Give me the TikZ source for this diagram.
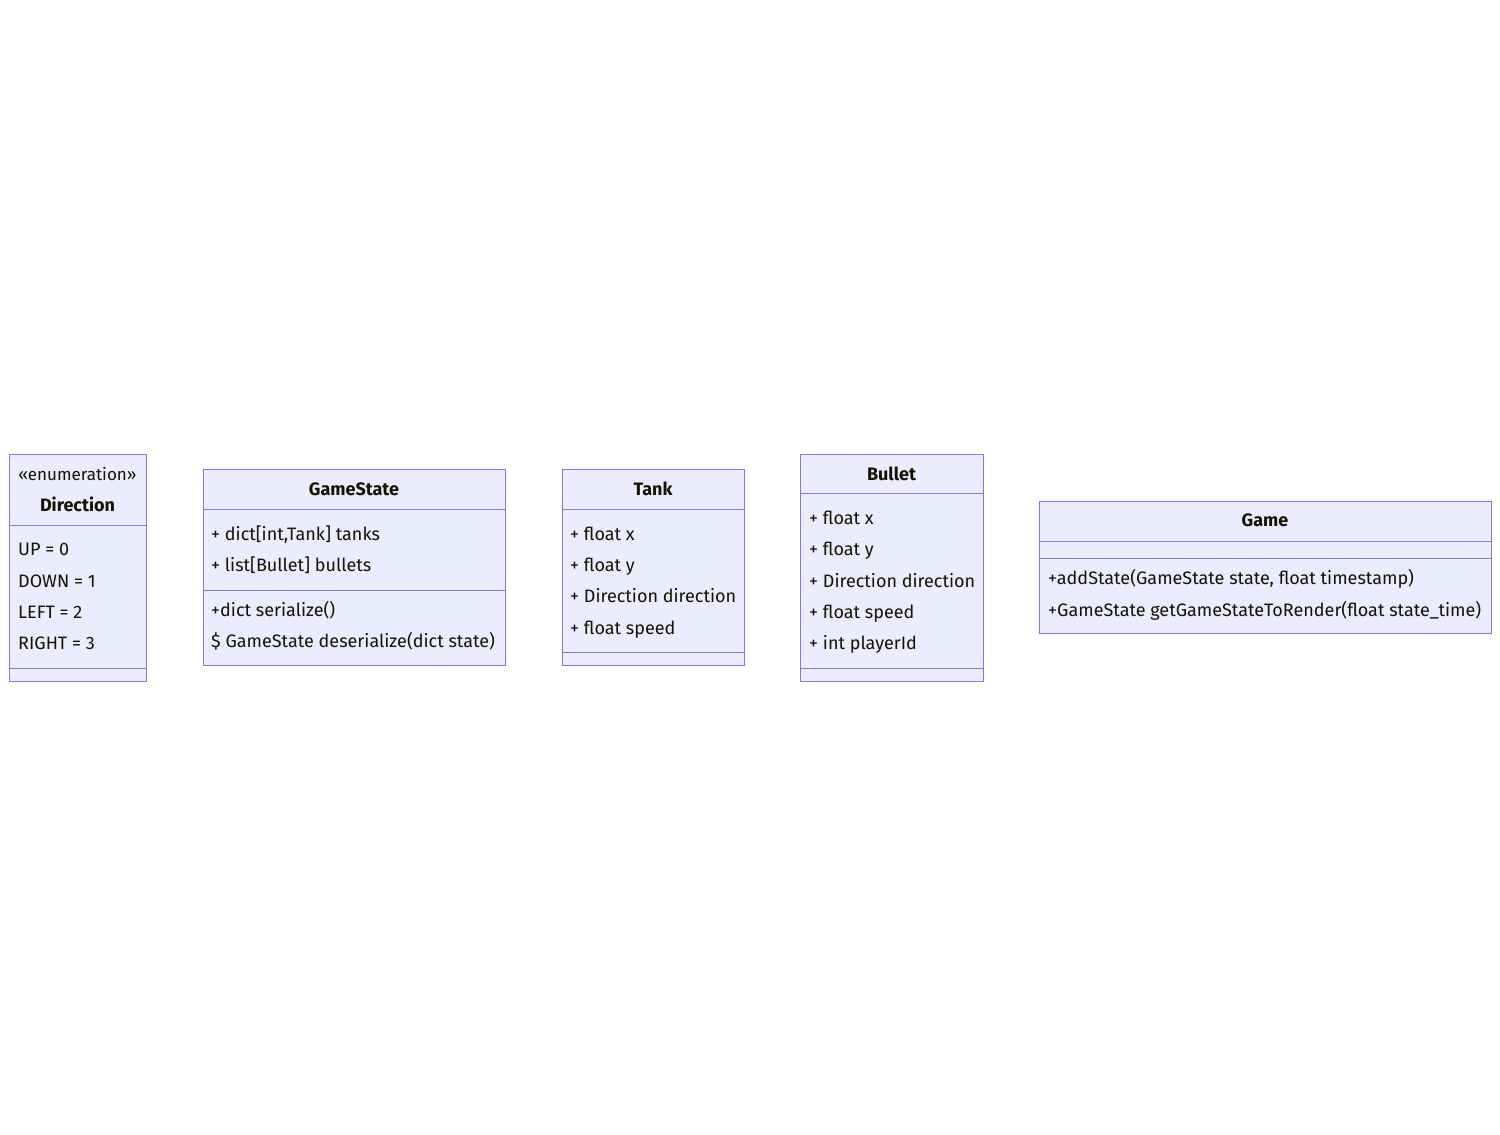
\documentclass[tikz,border=0pt]{standalone}
\usepackage{fontspec}
\setmainfont{Fira Sans}
\definecolor{boxfill}{HTML}{ECECFF}
\definecolor{boxline}{HTML}{9370DB}
\definecolor{ink}{HTML}{131300}

\begin{document}
\begin{tikzpicture}[x=1pt,y=-1pt,
	classbox/.style={draw=boxline,fill=boxfill,line width=1pt,anchor=north west,inner sep=0pt},
	divider/.style={draw=boxline,line width=1pt},
	member/.style={anchor=base west,inner sep=0pt,text=ink,font=\fontsize{18}{21}\selectfont},
	classname/.style={member,anchor=base,font=\fontsize{18}{21}\selectfont\bfseries}]
	\useasboundingbox (0,0) rectangle (1500,1135);

	% Direction
	\node[classbox,minimum width=137pt,minimum height=227pt] (dir) at (9,454) {};
	\draw[divider] (dir.west |- 0,525) -- (dir.east |- 0,525);
	\draw[divider] (dir.west |- 0,668) -- (dir.east |- 0,668);
	\node[classname,font=\fontsize{17}{20}\selectfont] (dirS) at (77.5,480) {«enumeration»};
	\node[classname] (dirT) at (77.5,511) {Direction};
	\node[member] (dirA) at (18,555) {UP = 0};
	\node[member] (dirB) at (18,587) {DOWN = 1};
	\node[member] (dirC) at (18,618) {LEFT = 2};
	\node[member] (dirD) at (18,649) {RIGHT = 3};

	% GameState
	\node[classbox,minimum width=302pt,minimum height=196pt] (gs) at (203,469) {};
	\draw[divider] (gs.west |- 0,509) -- (gs.east |- 0,509);
	\draw[divider] (gs.west |- 0,590) -- (gs.east |- 0,590);
	\node[classname] (gsT) at (354,495) {GameState};
	\node[member] (gsA) at (211,540) {+ dict[int,Tank] tanks};
	\node[member] (gsB) at (211,571) {+ list[Bullet] bullets};
	\node[member] (gsC) at (211,616) {+dict serialize()};
	\node[member] (gsD) at (211,647) {\$ GameState deserialize(dict state)};

	% Tank
	\node[classbox,minimum width=182pt,minimum height=196pt] (tank) at (562,469) {};
	\draw[divider] (tank.west |- 0,509) -- (tank.east |- 0,509);
	\draw[divider] (tank.west |- 0,652) -- (tank.east |- 0,652);
	\node[classname] (tankT) at (653,495) {Tank};
	\node[member] (tankA) at (570,540) {+ float x};
	\node[member] (tankB) at (570,571) {+ float y};
	\node[member] (tankC) at (570,602) {+ Direction direction};
	\node[member] (tankD) at (570,634) {+ float speed};

	% Bullet
	\node[classbox,minimum width=183pt,minimum height=227pt] (bul) at (800,454) {};
	\draw[divider] (bul.west |- 0,493) -- (bul.east |- 0,493);
	\draw[divider] (bul.west |- 0,668) -- (bul.east |- 0,668);
	\node[classname] (bulT) at (891.5,480) {Bullet};
	\node[member] (bulA) at (809,524) {+ float x};
	\node[member] (bulB) at (809,555) {+ float y};
	\node[member] (bulC) at (809,587) {+ Direction direction};
	\node[member] (bulD) at (809,618) {+ float speed};
	\node[member] (bulE) at (809,649) {+ int playerId};

	% Game
	\node[classbox,minimum width=452pt,minimum height=132pt] (game) at (1039,501) {};
	\draw[divider] (game.west |- 0,541) -- (game.east |- 0,541);
	\draw[divider] (game.west |- 0,558) -- (game.east |- 0,558);
	\node[classname] (gameT) at (1265,526) {Game};
	\node[member] (gameA) at (1048,584) {+addState(GameState state, float timestamp)};
	\node[member] (gameB) at (1048,616) {+GameState getGameStateToRender(float state\_time)};
\end{tikzpicture}
\end{document}
